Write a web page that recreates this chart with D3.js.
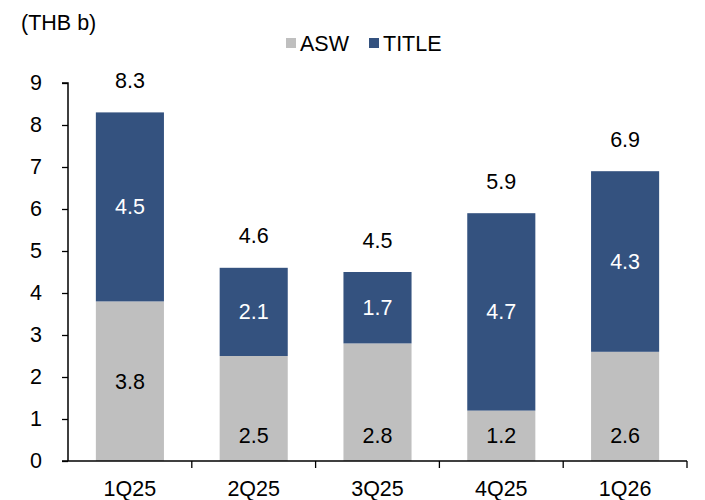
<!DOCTYPE html>
<html><head><meta charset="utf-8">
<script src="https://cdn.jsdelivr.net/npm/d3@7"></script>
<style>body{margin:0;background:#fff}svg{display:block}text{font-family:"Liberation Sans",Arial,sans-serif}</style>
</head><body>
<svg id="c" width="705" height="500"></svg>
<script>
const categories = ["1Q25","2Q25","3Q25","4Q25","1Q26"];
const asw   = [3.8, 2.5, 2.8, 1.2, 2.6];
const title = [4.5, 2.1, 1.7, 4.7, 4.3];
const totals = [8.3, 4.6, 4.5, 5.9, 6.9];
const yTicks = [0,1,2,3,4,5,6,7,8,9];
const seriesNames = ["ASW","TITLE"];
const aswLabelMode = ["center","base","base","base","base"];

const colors = {ASW:"#BFBFBF", TITLE:"#34527F"};
const svg = d3.select("#c");
const L = 68, R = 687, T = 83, B = 461;
const xSlot = d3.scaleBand().domain(categories).range([L,R]).padding(0);
const x = d3.scaleBand().domain(categories).range([L,R]).paddingInner(0.45).paddingOuter(0.225);
const y = d3.scaleLinear().domain([0,9]).range([B,T]);
const fs = 21.5;

const data = categories.map((c,i)=>({c, a:asw[i], t:title[i], tot:totals[i], mode:aswLabelMode[i]}));
const g = svg.append("g");
g.selectAll("rect.asw").data(data).join("rect")
  .attr("x", d=>x(d.c)).attr("width", x.bandwidth())
  .attr("y", d=>y(d.a)).attr("height", d=>y(0)-y(d.a))
  .attr("fill", colors.ASW);
g.selectAll("rect.title").data(data).join("rect")
  .attr("x", d=>x(d.c)).attr("width", x.bandwidth())
  .attr("y", d=>y(d.a+d.t)).attr("height", d=>y(d.a)-y(d.a+d.t))
  .attr("fill", colors.TITLE);

g.selectAll("text.al").data(data).join("text")
  .attr("x", d=>x(d.c)+x.bandwidth()/2)
  .attr("y", d=> d.mode==="center" ? (y(0)+y(d.a))/2 : y(0)-26)
  .attr("dy","0.35em").attr("text-anchor","middle").attr("font-size",fs).attr("fill","#000")
  .text(d=>d.a.toFixed(1));
g.selectAll("text.tl").data(data).join("text")
  .attr("x", d=>x(d.c)+x.bandwidth()/2)
  .attr("y", d=>(y(d.a)+y(d.a+d.t))/2)
  .attr("dy","0.35em").attr("text-anchor","middle").attr("font-size",fs).attr("fill","#fff")
  .text(d=>d.t.toFixed(1));
g.selectAll("text.tot").data(data).join("text")
  .attr("x", d=>x(d.c)+x.bandwidth()/2)
  .attr("y", d=>y(d.tot)-32)
  .attr("dy","0.35em").attr("text-anchor","middle").attr("font-size",fs).attr("fill","#000")
  .text(d=>d.tot.toFixed(1));

const ya = svg.append("g").attr("transform",`translate(${L},0)`)
  .call(d3.axisLeft(y).tickValues(yTicks).tickFormat(d3.format("d")).tickSize(6).tickPadding(20));
ya.select(".domain").attr("stroke","#000").attr("stroke-width",1.5).attr("d",`M-6,${T}H0V${B}`);
ya.selectAll(".tick line").attr("stroke","#000").attr("stroke-width",1.3);
ya.selectAll(".tick text").attr("font-size",fs).attr("fill","#000").attr("font-family","Liberation Sans, Arial, sans-serif");

const xa = svg.append("g").attr("transform",`translate(0,${B})`);
xa.append("line").attr("x1",L-6).attr("x2",R).attr("y1",0).attr("y2",0).attr("stroke","#000").attr("stroke-width",1.5);
const bounds = categories.slice(1).map(c=>xSlot(c)).concat([R]);
xa.selectAll("line.tk").data(bounds).join("line")
  .attr("x1",d=>d).attr("x2",d=>d).attr("y1",0).attr("y2",7).attr("stroke","#000").attr("stroke-width",1.3);
xa.selectAll("text.cat").data(categories).join("text")
  .attr("x", c=>xSlot(c)+xSlot.bandwidth()/2).attr("y", 27).attr("dy","0.35em")
  .attr("text-anchor","middle").attr("font-size",fs).attr("fill","#000").text(c=>c);

svg.append("text").attr("x",21).attr("y",22).attr("dy","0.35em").attr("font-size",fs).attr("fill","#000").text("(THB b)");

const legX = [286, 369];
const lg = svg.append("g");
seriesNames.forEach((s,i)=>{
  lg.append("rect").attr("x",legX[i]).attr("y",38).attr("width",10).attr("height",10).attr("fill",colors[s]);
  lg.append("text").attr("x",legX[i]+14).attr("y",43).attr("dy","0.35em").attr("font-size",fs).attr("fill","#000").text(s);
});
</script>
</body></html>
